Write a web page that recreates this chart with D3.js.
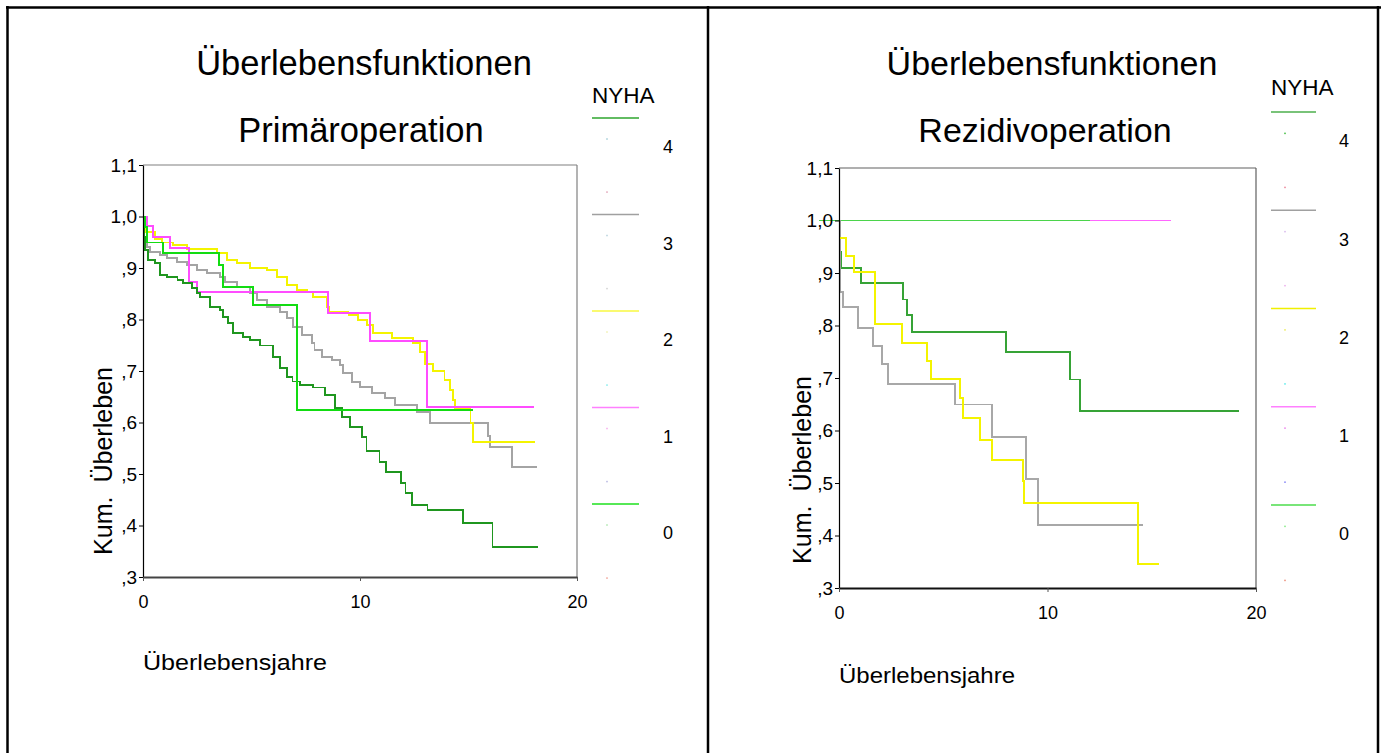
<!DOCTYPE html>
<html>
<head>
<meta charset="utf-8">
<script src="https://cdn.jsdelivr.net/npm/d3@7"></script>
<style>
  html, body { margin: 0; padding: 0; background: #fff; }
  svg { display: block; }
  text { font-family: "Liberation Sans", Arial, sans-serif; fill: #000; }
</style>
</head>
<body>
<svg id="chart" width="1381" height="753"></svg>
<script>
// ---------------- DATA ----------------
const legendCategories = ["4", "3", "2", "1", "0"];
const xTickValues = [0, 10, 20];
const yTickValues = [0.3, 0.4, 0.5, 0.6, 0.7, 0.8, 0.9, 1.0, 1.1];
const yTickLabels = [",3", ",4", ",5", ",6", ",7", ",8", ",9", "1,0", "1,1"];

const titlesPrimary = ["Überlebensfunktionen", "Primäroperation"];
const titlesRecurrent = ["Überlebensfunktionen", "Rezidivoperation"];
const yAxisTitle = "Kum.  Überleben";
const xAxisTitle = "Überlebensjahre";
const legendTitle = "NYHA";

// Primäroperation: Kaplan-Meier steps [years, cumulative survival]; last point = end of follow-up
const primNyha4 = [[0,1.0],[0.05,0.96],[0.09,0.935],[0.23,0.916],[0.55,0.91],[0.78,0.886],[1.1,0.883],[1.6,0.877],[1.84,0.871],[2.26,0.861],[2.49,0.851],[2.63,0.844],[3.09,0.824],[3.55,0.818],[3.69,0.805],[3.92,0.793],[4.15,0.774],[4.6,0.766],[4.93,0.76],[5.39,0.75],[5.99,0.727],[6.31,0.706],[6.64,0.688],[6.9,0.68],[7.23,0.673],[7.83,0.668],[8.39,0.653],[8.85,0.628],[9.17,0.611],[9.54,0.591],[10.1,0.572],[10.3,0.545],[10.9,0.523],[11.2,0.504],[11.9,0.483],[12.1,0.463],[12.4,0.44],[13.1,0.43],[14.75,0.405],[16.1,0.358],[18.2,0.358]];
const primNyha3 = [[0,1.0],[0.05,0.96],[0.18,0.941],[0.32,0.931],[0.78,0.925],[1.1,0.919],[1.57,0.912],[2.03,0.906],[2.49,0.896],[2.95,0.89],[3.55,0.883],[3.78,0.873],[4.33,0.863],[4.93,0.851],[5.25,0.838],[5.71,0.824],[6.31,0.815],[6.64,0.803],[6.91,0.785],[7.33,0.77],[7.79,0.754],[7.9,0.741],[8.25,0.727],[8.71,0.721],[9.08,0.712],[9.22,0.696],[9.63,0.679],[10.0,0.669],[10.55,0.657],[11.15,0.648],[11.61,0.634],[12.63,0.62],[13.23,0.599],[15.9,0.574],[16.0,0.552],[17.0,0.514],[18.16,0.514]];
const primNyha2 = [[0,1.0],[0.09,0.97],[0.55,0.956],[0.88,0.95],[1.38,0.945],[2.03,0.937],[3.41,0.929],[3.87,0.916],[4.33,0.91],[4.93,0.9],[5.71,0.896],[6.18,0.883],[6.64,0.867],[7.1,0.857],[7.56,0.853],[7.83,0.844],[8.48,0.824],[8.6,0.815],[9.48,0.809],[9.91,0.799],[10.32,0.789],[10.6,0.774],[11.47,0.764],[12.44,0.754],[12.76,0.737],[13.0,0.714],[13.36,0.7],[13.9,0.683],[14.15,0.663],[14.29,0.644],[14.38,0.628],[15.1,0.599],[15.2,0.562],[18.06,0.562]];
const primNyha1 = [[0,1.0],[0.18,0.982],[0.46,0.96],[1.24,0.939],[2.12,0.873],[2.49,0.853],[8.53,0.813],[10.46,0.758],[13.09,0.63],[18.0,0.63]];
const primNyha0 = [[0,1.0],[0.09,0.98],[0.18,0.95],[0.92,0.929],[3.5,0.906],[3.69,0.863],[5.07,0.828],[7.1,0.624],[15.2,0.624]];

// Rezidivoperation
const rezNyha4 = [[0,1.0],[0.03,0.94],[0.1,0.91],[1.06,0.881],[3.07,0.85],[3.26,0.82],[3.5,0.788],[8.0,0.75],[11.08,0.697],[11.56,0.637],[19.2,0.637]];
const rezNyha3 = [[0,1.0],[0.05,0.864],[0.19,0.835],[0.91,0.795],[1.63,0.761],[2.06,0.727],[2.35,0.689],[5.56,0.65],[7.34,0.588],[8.97,0.508],[9.54,0.42],[14.58,0.42]];
const rezNyha2 = [[0,1.0],[0.02,0.967],[0.34,0.932],[0.72,0.902],[1.73,0.803],[3.02,0.767],[4.22,0.732],[4.41,0.698],[5.8,0.662],[5.95,0.624],[6.76,0.582],[7.34,0.544],[8.82,0.504],[8.87,0.462],[14.34,0.346],[15.35,0.346]];
const rezNyha1 = [[0,1.0],[15.92,1.0]];
const rezNyha0 = [[-0.95,1.0],[12.04,1.0]];

// colours per legend category (4,3,2,1,0)
const primColors = ["#1f961f", "#a4a4a4", "#f4f400", "#ff4cff", "#12dc12"];
const rezColors  = ["#36a336", "#a8a8a8", "#f4f400", "#ff66ff", "#4bd44b"];
const primLegendColors = ["#2ea62e", "#a0a0a0", "#f8f840", "#ff80ff", "#1ee01e"];
const rezLegendColors  = ["#4caf4c", "#a0a0a0", "#f0f000", "#ff80ff", "#4cdc4c"];
// faint censor-marker dots in legends
const primDotColors = ["#b8d8e0", "#e8b8c8", "#c8dce4", "#dcdcdc", "#f4f4c0", "#a0f0f0", "#f8c0f0", "#c8c8e8", "#c0ecc0", "#f4b8b0"];
const rezDotColors  = ["#6ccc6c", "#f0a0b0", "#e0c8f0", "#f0c0f0", "#f0f080", "#80f0f0", "#f0a0f0", "#a0a0f8", "#a0f0a0", "#f0a898"];

// ---------------- DRAW ----------------
const svg = d3.select("#chart");
const font = '"Liberation Sans", Arial, sans-serif';

// outer table borders
const border = svg.append("g").attr("stroke", "#000").attr("stroke-width", 2.5).attr("fill", "none");
border.append("line").attr("x1", 6).attr("x2", 1381).attr("y1", 7.5).attr("y2", 7.5);
border.append("line").attr("x1", 7.5).attr("x2", 7.5).attr("y1", 6).attr("y2", 753);
border.append("line").attr("x1", 708).attr("x2", 708).attr("y1", 6).attr("y2", 753);
border.append("line").attr("x1", 1378).attr("x2", 1378).attr("y1", 6).attr("y2", 753);

function drawPanel(cfg) {
  const x = d3.scaleLinear().domain([0, 20]).range([cfg.x0, cfg.x1]);
  const y = d3.scaleLinear().domain([0.3, 1.1]).range([cfg.y0, cfg.y1]);
  const g = svg.append("g");

  // titles
  g.append("text").attr("x", cfg.t1x).attr("y", 75).attr("text-anchor", "middle")
    .style("font-size", cfg.titleSize + "px").text(cfg.titles[0]);
  g.append("text").attr("x", cfg.t2x).attr("y", 142).attr("text-anchor", "middle")
    .style("font-size", cfg.titleSize + "px").text(cfg.titles[1]);

  // frame (top and right)
  g.append("line").attr("x1", x(0)).attr("x2", x(20)).attr("y1", y(1.1)).attr("y2", y(1.1))
    .attr("stroke", cfg.frameColor).attr("stroke-width", 1.2);
  g.append("line").attr("x1", x(20)).attr("x2", x(20)).attr("y1", y(1.1)).attr("y2", y(0.3))
    .attr("stroke", cfg.frameColor).attr("stroke-width", 1.2);

  // curves
  const line = d3.line().x(d => x(d[0])).y(d => y(d[1])).curve(d3.curveStepAfter);
  cfg.order.forEach(i => {
    g.append("path").datum(cfg.series[i]).attr("d", line)
      .attr("fill", "none").attr("stroke", cfg.colors[i]).attr("stroke-width", 1.5)
      .attr("shape-rendering", "crispEdges");
  });

  // y axis
  const yAxis = d3.axisLeft(y).tickValues(yTickValues)
    .tickFormat((d, i) => yTickLabels[i]).tickSize(4).tickSizeOuter(0).tickPadding(2);
  const ya = g.append("g").attr("transform", `translate(${x(0)},0)`).call(yAxis);
  ya.select(".domain").attr("stroke", "#000").attr("stroke-width", 1.2);
  ya.selectAll(".tick line").attr("stroke", "#000");
  ya.selectAll("text").style("font-size", "19px").style("font-family", font).attr("fill", "#000");

  // x axis
  const xAxis = d3.axisBottom(x).tickValues(xTickValues).tickFormat(d3.format("d"))
    .tickSize(4).tickSizeOuter(0).tickPadding(14);
  const xa = g.append("g").attr("transform", `translate(0,${y(0.3)})`).call(xAxis);
  xa.select(".domain").attr("stroke", cfg.bottomColor).attr("stroke-width", cfg.bottomWidth);
  xa.selectAll(".tick line").attr("stroke", "#555");
  xa.selectAll("text").style("font-size", "18px").style("font-family", font).attr("fill", "#000");

  // axis titles
  g.append("text").attr("transform", `translate(${cfg.yTitleX},${cfg.yTitleY}) rotate(-90)`)
    .attr("text-anchor", "middle").style("font-size", "26px")
    .attr("textLength", 188).attr("lengthAdjust", "spacingAndGlyphs")
    .attr("xml:space", "preserve").style("white-space", "pre").text(yAxisTitle);
  g.append("text").attr("x", x(0)).attr("y", cfg.xTitleY)
    .style("font-size", "22px").attr("textLength", cfg.xTitleLen).attr("lengthAdjust", "spacingAndGlyphs")
    .text(xAxisTitle);

  // legend
  const lg = g.append("g");
  lg.append("text").attr("x", cfg.legX).attr("y", cfg.legTitleY).style("font-size", "22.5px").text(legendTitle);
  const ly = d3.scaleLinear().domain([0, 4]).range([cfg.legY0, cfg.legY4]);
  legendCategories.forEach((c, i) => {
    lg.append("line").attr("x1", cfg.legX).attr("x2", cfg.legX + cfg.legW)
      .attr("y1", ly(i)).attr("y2", ly(i))
      .attr("stroke", cfg.legendColors[i]).attr("stroke-width", 1.5);
    lg.append("text").attr("x", cfg.legLabelX).attr("y", ly(i) + 29).attr("dy", "0.35em")
      .style("font-size", "18px").text(c);
  });
  const step = (cfg.legY4 - cfg.legY0) / 4;
  cfg.dotColors.forEach((col, j) => {
    const yy = ly(Math.floor(j / 2)) + (j % 2 === 0 ? step * 0.21 : step * 0.76);
    lg.append("rect").attr("x", cfg.dotX).attr("y", yy).attr("width", 2).attr("height", 1.5).attr("fill", col);
  });
}

drawPanel({
  x0: 143, x1: 577, y0: 577, y1: 165,
  titles: titlesPrimary, t1x: 364, t2x: 361, titleSize: 34.5,
  frameColor: "#808080", bottomColor: "#444", bottomWidth: 2.2,
  series: [primNyha4, primNyha3, primNyha2, primNyha1, primNyha0],
  colors: primColors, order: [1, 2, 3, 0, 4],
  yTitleX: 112, yTitleY: 461, xTitleY: 670, xTitleLen: 184,
  legX: 592, legW: 47, legTitleY: 103, legY0: 118, legY4: 504, legLabelX: 663,
  legendColors: primLegendColors, dotColors: primDotColors, dotX: 606
});

drawPanel({
  x0: 839, x1: 1256, y0: 588, y1: 168,
  titles: titlesRecurrent, t1x: 1052, t2x: 1045, titleSize: 34,
  frameColor: "#606060", bottomColor: "#111", bottomWidth: 1.8,
  series: [rezNyha4, rezNyha3, rezNyha2, rezNyha1, rezNyha0],
  colors: rezColors, order: [3, 4, 0, 1, 2],
  yTitleX: 811, yTitleY: 470, xTitleY: 683, xTitleLen: 176,
  legX: 1271, legW: 45, legTitleY: 95, legY0: 112, legY4: 505, legLabelX: 1339,
  legendColors: rezLegendColors, dotColors: rezDotColors, dotX: 1284
});
</script>
</body>
</html>
